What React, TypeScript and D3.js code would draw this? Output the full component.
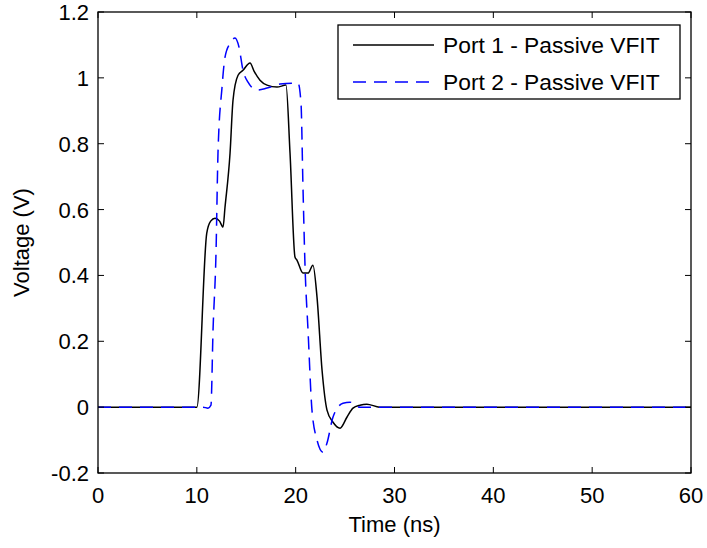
import React from "react";
import * as d3 from "d3";

const width = 707,
  height = 548;
const margin = { top: 12, right: 16, bottom: 75, left: 98 };

// Port 1 - Passive VFIT (time ns, voltage V)
const port1T = [0, 10, 11.0, 11.4, 11.84, 12.3, 12.65, 12.85, 13.36, 13.66, 14.17, 14.67, 15.38, 15.8, 16.39, 17.1, 18.11, 19.02, 19.43, 19.93, 20.14, 20.74, 21.25, 21.75, 22.16, 22.67, 23.17, 23.78, 24.49, 25.2, 25.8, 26.5, 27.2, 28.5, 60];
const port1V = [0, 0, 0.528, 0.565, 0.574, 0.565, 0.547, 0.607, 0.771, 0.932, 1.008, 1.023, 1.045, 1.02, 0.993, 0.978, 0.972, 0.978, 0.771, 0.456, 0.446, 0.407, 0.407, 0.431, 0.334, 0.112, -0.009, -0.046, -0.064, -0.03, -0.003, 0.006, 0.009, 0, 0];

// Port 2 - Passive VFIT
const port2T = [0, 10.62, 11.13, 11.43, 11.64, 11.94, 12.14, 12.55, 12.85, 13.36, 13.86, 14.27, 14.67, 15.18, 16.09, 17.1, 18.42, 20.24, 20.54, 20.74, 20.95, 21.25, 21.65, 22.16, 22.77, 23.17, 23.78, 24.79, 25.5, 26.5, 60];
const port2V = [0, 0, -0.003, 0.006, 0.234, 0.468, 0.771, 0.972, 1.063, 1.105, 1.121, 1.093, 1.023, 0.987, 0.963, 0.969, 0.981, 0.984, 0.923, 0.668, 0.425, 0.234, -0.009, -0.1, -0.137, -0.109, -0.03, 0.012, 0.015, 0, 0];

const xTicks = [0, 10, 20, 30, 40, 50, 60];
const yTicks = [-0.2, 0, 0.2, 0.4, 0.6, 0.8, 1, 1.2];
const legendLabels = ["Port 1 - Passive VFIT", "Port 2 - Passive VFIT"];

const font = "'Liberation Sans', Arial, sans-serif";
const fs = 22;

export default function App() {
  const x = d3
    .scaleLinear()
    .domain([0, 60])
    .range([margin.left, width - margin.right]);
  const y = d3
    .scaleLinear()
    .domain([-0.2, 1.2])
    .range([height - margin.bottom, margin.top]);

  const line = d3
    .line<[number, number]>()
    .x((d) => x(d[0]))
    .y((d) => y(d[1]))
    .curve(d3.curveMonotoneX);

  const p1 = line(port1T.map((t, i) => [t, port1V[i]]) as [number, number][]);
  const p2 = line(port2T.map((t, i) => [t, port2V[i]]) as [number, number][]);

  const x0 = x(0),
    x1 = x(60),
    y0 = y(-0.2),
    y1 = y(1.2);
  const tick = 6;

  const lg = { x: 338, y: 25, w: 342, h: 74 };

  return (
    <svg
      width={width}
      height={height}
      style={{ position: "absolute", left: 0, top: 0, background: "#fff" }}
      fontFamily={font}
    >
      <rect x={0} y={0} width={width} height={height} fill="#fff" />
      <path d={p1 ?? ""} fill="none" stroke="#000" strokeWidth={1.5} />
      <path
        d={p2 ?? ""}
        fill="none"
        stroke="#0000ff"
        strokeWidth={1.5}
        strokeDasharray="13,8"
      />

      {/* box */}
      <rect
        x={x0}
        y={y1}
        width={x1 - x0}
        height={y0 - y1}
        fill="none"
        stroke="#000"
        strokeWidth={1.3}
      />
      {xTicks.map((t) => (
        <g key={"x" + t}>
          <line x1={x(t)} x2={x(t)} y1={y0} y2={y0 - tick} stroke="#000" />
          <line x1={x(t)} x2={x(t)} y1={y1} y2={y1 + tick} stroke="#000" />
          <text x={x(t)} y={y0 + 30} textAnchor="middle" fontSize={fs}>
            {t}
          </text>
        </g>
      ))}
      {yTicks.map((t) => (
        <g key={"y" + t}>
          <line x1={x0} x2={x0 + tick} y1={y(t)} y2={y(t)} stroke="#000" />
          <line x1={x1} x2={x1 - tick} y1={y(t)} y2={y(t)} stroke="#000" />
          <text x={x0 - 9} y={y(t) + 8} textAnchor="end" fontSize={fs}>
            {String(+t.toFixed(1))}
          </text>
        </g>
      ))}
      <text x={(x0 + x1) / 2} y={y0 + 59} textAnchor="middle" fontSize={fs}>
        Time (ns)
      </text>
      <text
        transform={`translate(29,${(y0 + y1) / 2}) rotate(-90)`}
        textAnchor="middle"
        fontSize={fs}
      >
        Voltage (V)
      </text>

      {/* legend */}
      <rect
        x={lg.x}
        y={lg.y}
        width={lg.w}
        height={lg.h}
        fill="#fff"
        stroke="#000"
        strokeWidth={1.3}
      />
      {legendLabels.map((l, i) => {
        const ly = lg.y + 20 + i * 37;
        return (
          <g key={l}>
            <line
              x1={lg.x + 15}
              x2={lg.x + 96}
              y1={ly}
              y2={ly}
              stroke={i === 0 ? "#000" : "#0000ff"}
              strokeWidth={1.5}
              strokeDasharray={i === 0 ? undefined : "13,8"}
            />
            <text x={lg.x + 105} y={ly + 8} fontSize={22.8}>
              {l}
            </text>
          </g>
        );
      })}
    </svg>
  );
}
